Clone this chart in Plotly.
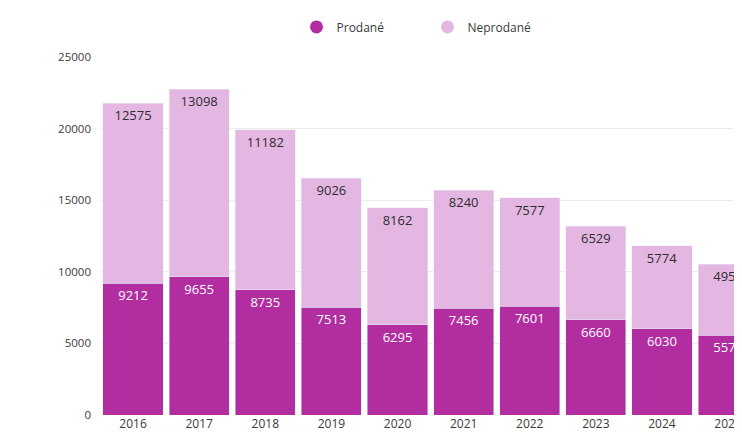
import plotly.graph_objects as go

years = ["2016", "2017", "2018", "2019", "2020", "2021", "2022", "2023", "2024", "2025"]
prodane = [9212, 9655, 8735, 7513, 6295, 7456, 7601, 6660, 6030, 5575]
neprodane = [12575, 13098, 11182, 9026, 8162, 8240, 7577, 6529, 5774, 4950]
y_ticks = [0, 5000, 10000, 15000, 20000, 25000]

c_dark = "#b12da0"
c_light = "#e4b6e2"
font_family = "'Open Sans', sans-serif"

fig = go.Figure()
fig.add_trace(go.Bar(
    x=years, y=prodane, name="Prodané", marker_color=c_dark, showlegend=False,
    text=[str(v) for v in prodane], textposition="inside", insidetextanchor="end",
    textfont=dict(color="white", size=13, family=font_family), constraintext="none",
    cliponaxis=True, hoverinfo="x+y",
))
fig.add_trace(go.Bar(
    x=years, y=neprodane, name="Neprodané", marker_color=c_light, showlegend=False,
    text=[str(v) for v in neprodane], textposition="inside", insidetextanchor="end",
    textfont=dict(color="#2e2e2e", size=13, family=font_family), constraintext="none",
    cliponaxis=True, hoverinfo="x+y",
))
# legend entries with circle markers
fig.add_trace(go.Scatter(x=[None], y=[None], mode="markers", name="Prodané",
                         marker=dict(color=c_dark, size=13, symbol="circle")))
fig.add_trace(go.Scatter(x=[None], y=[None], mode="markers", name="Neprodané",
                         marker=dict(color=c_light, size=13, symbol="circle")))

fig.update_layout(
    width=734, height=429,
    barmode="stack", bargap=0.09,
    plot_bgcolor="white", paper_bgcolor="white",
    margin=dict(l=92, r=0, t=49, b=22),
    font=dict(family=font_family, color="#3a3a3a", size=11),
    legend=dict(orientation="h", x=0.308, xanchor="left", y=1.084, yanchor="middle",
                traceorder="normal", font=dict(size=12, color="#3a3a3a"),
                entrywidth=86, entrywidthmode="pixels"),
    uniformtext=dict(minsize=8, mode="show"),
    xaxis=dict(range=[-0.5, 9.15], showgrid=False, zeroline=False, showline=False,
               ticks="", tickfont=dict(size=12, color="#3a3a3a")),
    yaxis=dict(range=[0, 25000], tickvals=y_ticks, tickformat="d", showgrid=True,
               gridcolor="#ececec", zeroline=False, showline=False, ticks="",
               ticklabelstandoff=8, tickfont=dict(size=11.5, color="#3a3a3a")),
)

fig.write_html("out.html")
